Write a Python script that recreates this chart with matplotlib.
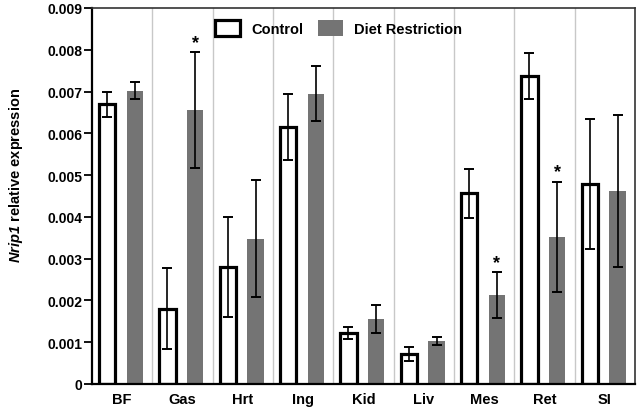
import matplotlib.pyplot as plt
import numpy as np

plt.rcParams['font.family'] = 'Liberation Sans'
plt.rcParams['font.weight'] = 'bold'
plt.rcParams['mathtext.fontset'] = 'custom'
plt.rcParams['mathtext.bfit'] = 'Liberation Sans:italic:bold'

tissues = ['BF', 'Gas', 'Hrt', 'Ing', 'Kid', 'Liv', 'Mes', 'Ret', 'SI']
control = [0.0067, 0.0018, 0.0028, 0.00615, 0.00122, 0.00072, 0.00456, 0.00738, 0.00478]
control_err = [0.0003, 0.00097, 0.0012, 0.00078, 0.00015, 0.00016, 0.00059, 0.00055, 0.00156]
diet = [0.00702, 0.00655, 0.00348, 0.00695, 0.00155, 0.00103, 0.00213, 0.00352, 0.00463]
diet_err = [0.0002, 0.00139, 0.0014, 0.00066, 0.00033, 0.0001, 0.00055, 0.00132, 0.00182]
signif = [False, True, False, False, False, False, True, True, False]

x = np.arange(len(tissues))
w = 0.27

fig = plt.figure(figsize=(6.4, 4.1), dpi=100)
ax = fig.add_axes([92/640, 1 - 385/410, (635-92)/640, (385-9)/410])

# light separators between tissues
for s in x[:-1] + 0.5:
    ax.axvline(s, color='#c8c8c8', lw=1.0, zorder=0)

xc = x - 0.25
xd = x + 0.21
ax.bar(xc, control, w, color='white', edgecolor='black', linewidth=2.3,
       label='Control', zorder=2)
ax.bar(xd, diet, w, color='#747474', edgecolor='none',
       label='Diet Restriction', zorder=2)
ax.errorbar(xc, control, yerr=control_err, fmt='none', ecolor='black',
            elinewidth=1.2, capsize=3.8, capthick=1.4, zorder=3)
ax.errorbar(xd, diet, yerr=diet_err, fmt='none', ecolor='black',
            elinewidth=1.2, capsize=3.8, capthick=1.4, zorder=3)

for i in range(len(tissues)):
    if signif[i]:
        ax.text(xd[i], diet[i] + diet_err[i] + 0.00003, '*', ha='center',
                va='bottom', fontsize=13, fontweight='bold')

ax.set_xlim(-0.5, 8.5)
ax.set_ylim(0, 0.009)
ax.set_yticks(np.arange(0, 0.0091, 0.001))
ax.set_yticklabels(['0'] + ['%.3f' % v for v in np.arange(0.001, 0.0091, 0.001)])
ax.set_xticks(x)
ax.set_xticklabels(tissues)
ax.tick_params(axis='x', length=0, labelsize=10.5, pad=6)
ax.tick_params(axis='y', length=5.5, width=1.3, labelsize=10, pad=1.5)

for side in ['left', 'bottom']:
    ax.spines[side].set_linewidth(1.6)
for side in ['top', 'right']:
    ax.spines[side].set_linewidth(1.2)
    ax.spines[side].set_color('#333333')

ax.set_ylabel(r'$\mathbfit{Nrip1}$ relative expression', fontsize=10.5,
              fontweight='bold')
ax.yaxis.set_label_coords(-0.123, 0.558)

leg = ax.legend(loc='center left', bbox_to_anchor=(0.2265, 0.947), ncol=2,
                frameon=False, fontsize=10.5, handlelength=1.7, handleheight=1.3,
                columnspacing=1.0, handletextpad=0.8, borderpad=0,
                borderaxespad=0)

fig.savefig('out.png', dpi=100)
